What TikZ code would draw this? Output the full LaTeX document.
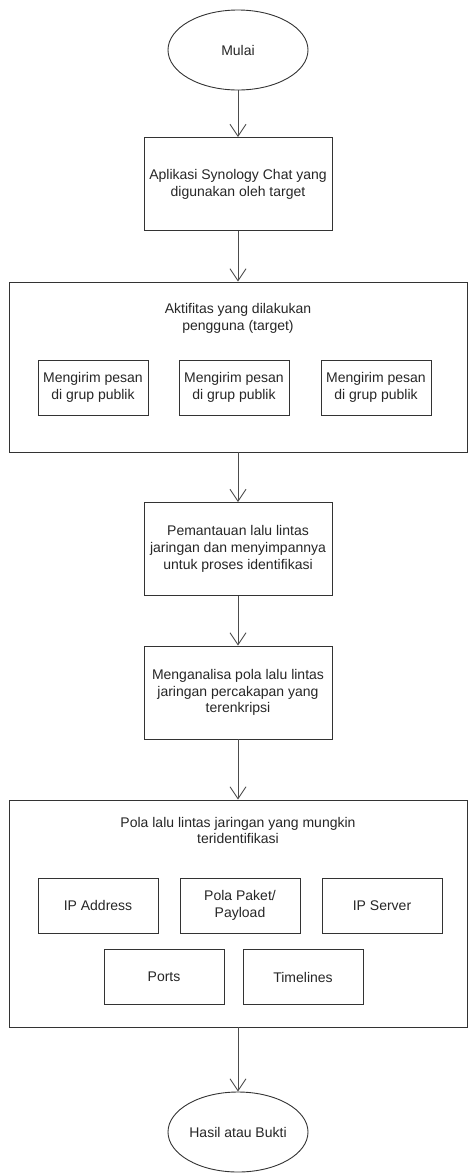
\documentclass[tikz,border=0pt]{standalone}
\usepackage{fontspec}
\setmainfont{Liberation Sans}
\usetikzlibrary{arrows.meta,shapes.geometric}
\begin{document}
\begin{tikzpicture}[x=1pt, y=-1pt,
  every node/.style={font=\fontsize{14}{16.8}\selectfont, text=black!85, align=center},
  terminal/.style={ellipse, draw=black!80, line width=0.9pt, minimum width=140, minimum height=80, inner sep=0pt},
  process/.style={rectangle, draw=black!80, line width=0.9pt, minimum width=188, minimum height=93, inner sep=0pt},
  frame/.style={rectangle, draw=black!80, line width=0.9pt, minimum width=458, inner sep=0pt},
  item/.style={rectangle, draw=black!80, line width=0.9pt, minimum height=55, inner sep=0pt},
  flow/.style={-{Straight Barb[length=12pt,width=16pt]}, draw=black!70, line width=0.9pt}]
\useasboundingbox (0,0) rectangle (467,1176);
\node[terminal] (mulai) at (238, 50) {Mulai};
\node[process] (aplikasi) at (238, 184) {Aplikasi Synology Chat yang\\digunakan oleh target};
% aktifitas pengguna
\node[frame, minimum height=170] (aktifitas) at (238, 367) {};
\node (aktjudul) at (238, 318.5) {Aktifitas yang dilakukan\\pengguna (target)};
\node[item, minimum width=110] (pesana) at (93, 387.5) {Mengirim pesan\\di grup publik};
\node[item, minimum width=110] (pesanb) at (234, 387.5) {Mengirim pesan\\di grup publik};
\node[item, minimum width=110] (pesanc) at (376, 387.5) {Mengirim pesan\\di grup publik};
\node[process] (pantau) at (238, 549) {Pemantauan lalu lintas\\jaringan dan menyimpannya\\untuk proses identifikasi};
\node[process] (analisa) at (238, 692.5) {Menganalisa pola lalu lintas\\jaringan percakapan yang\\terenkripsi};
% pola lalu lintas
\node[frame, minimum height=227] (pola) at (238, 913.5) {};
\node (polajudul) at (238, 830.5) {Pola lalu lintas jaringan yang mungkin\\teridentifikasi};
\node[item, minimum width=120] (ipaddr) at (98, 905.5) {IP Address};
\node[item, minimum width=120] (paket) at (240, 905.5) {Pola Paket/\\Payload};
\node[item, minimum width=120] (ipserver) at (382, 905.5) {IP Server};
\node[item, minimum width=120] (ports) at (164, 977) {Ports};
\node[item, minimum width=120] (timelines) at (303, 977) {Timelines};
\node[terminal] (hasil) at (238, 1132) {Hasil atau Bukti};
\draw[flow] (mulai) -- (aplikasi);
\draw[flow] (aplikasi) -- (aktifitas);
\draw[flow] (aktifitas) -- (pantau);
\draw[flow] (pantau) -- (analisa);
\draw[flow] (analisa) -- (pola);
\draw[flow] (pola) -- (hasil);
\end{tikzpicture}
\end{document}
